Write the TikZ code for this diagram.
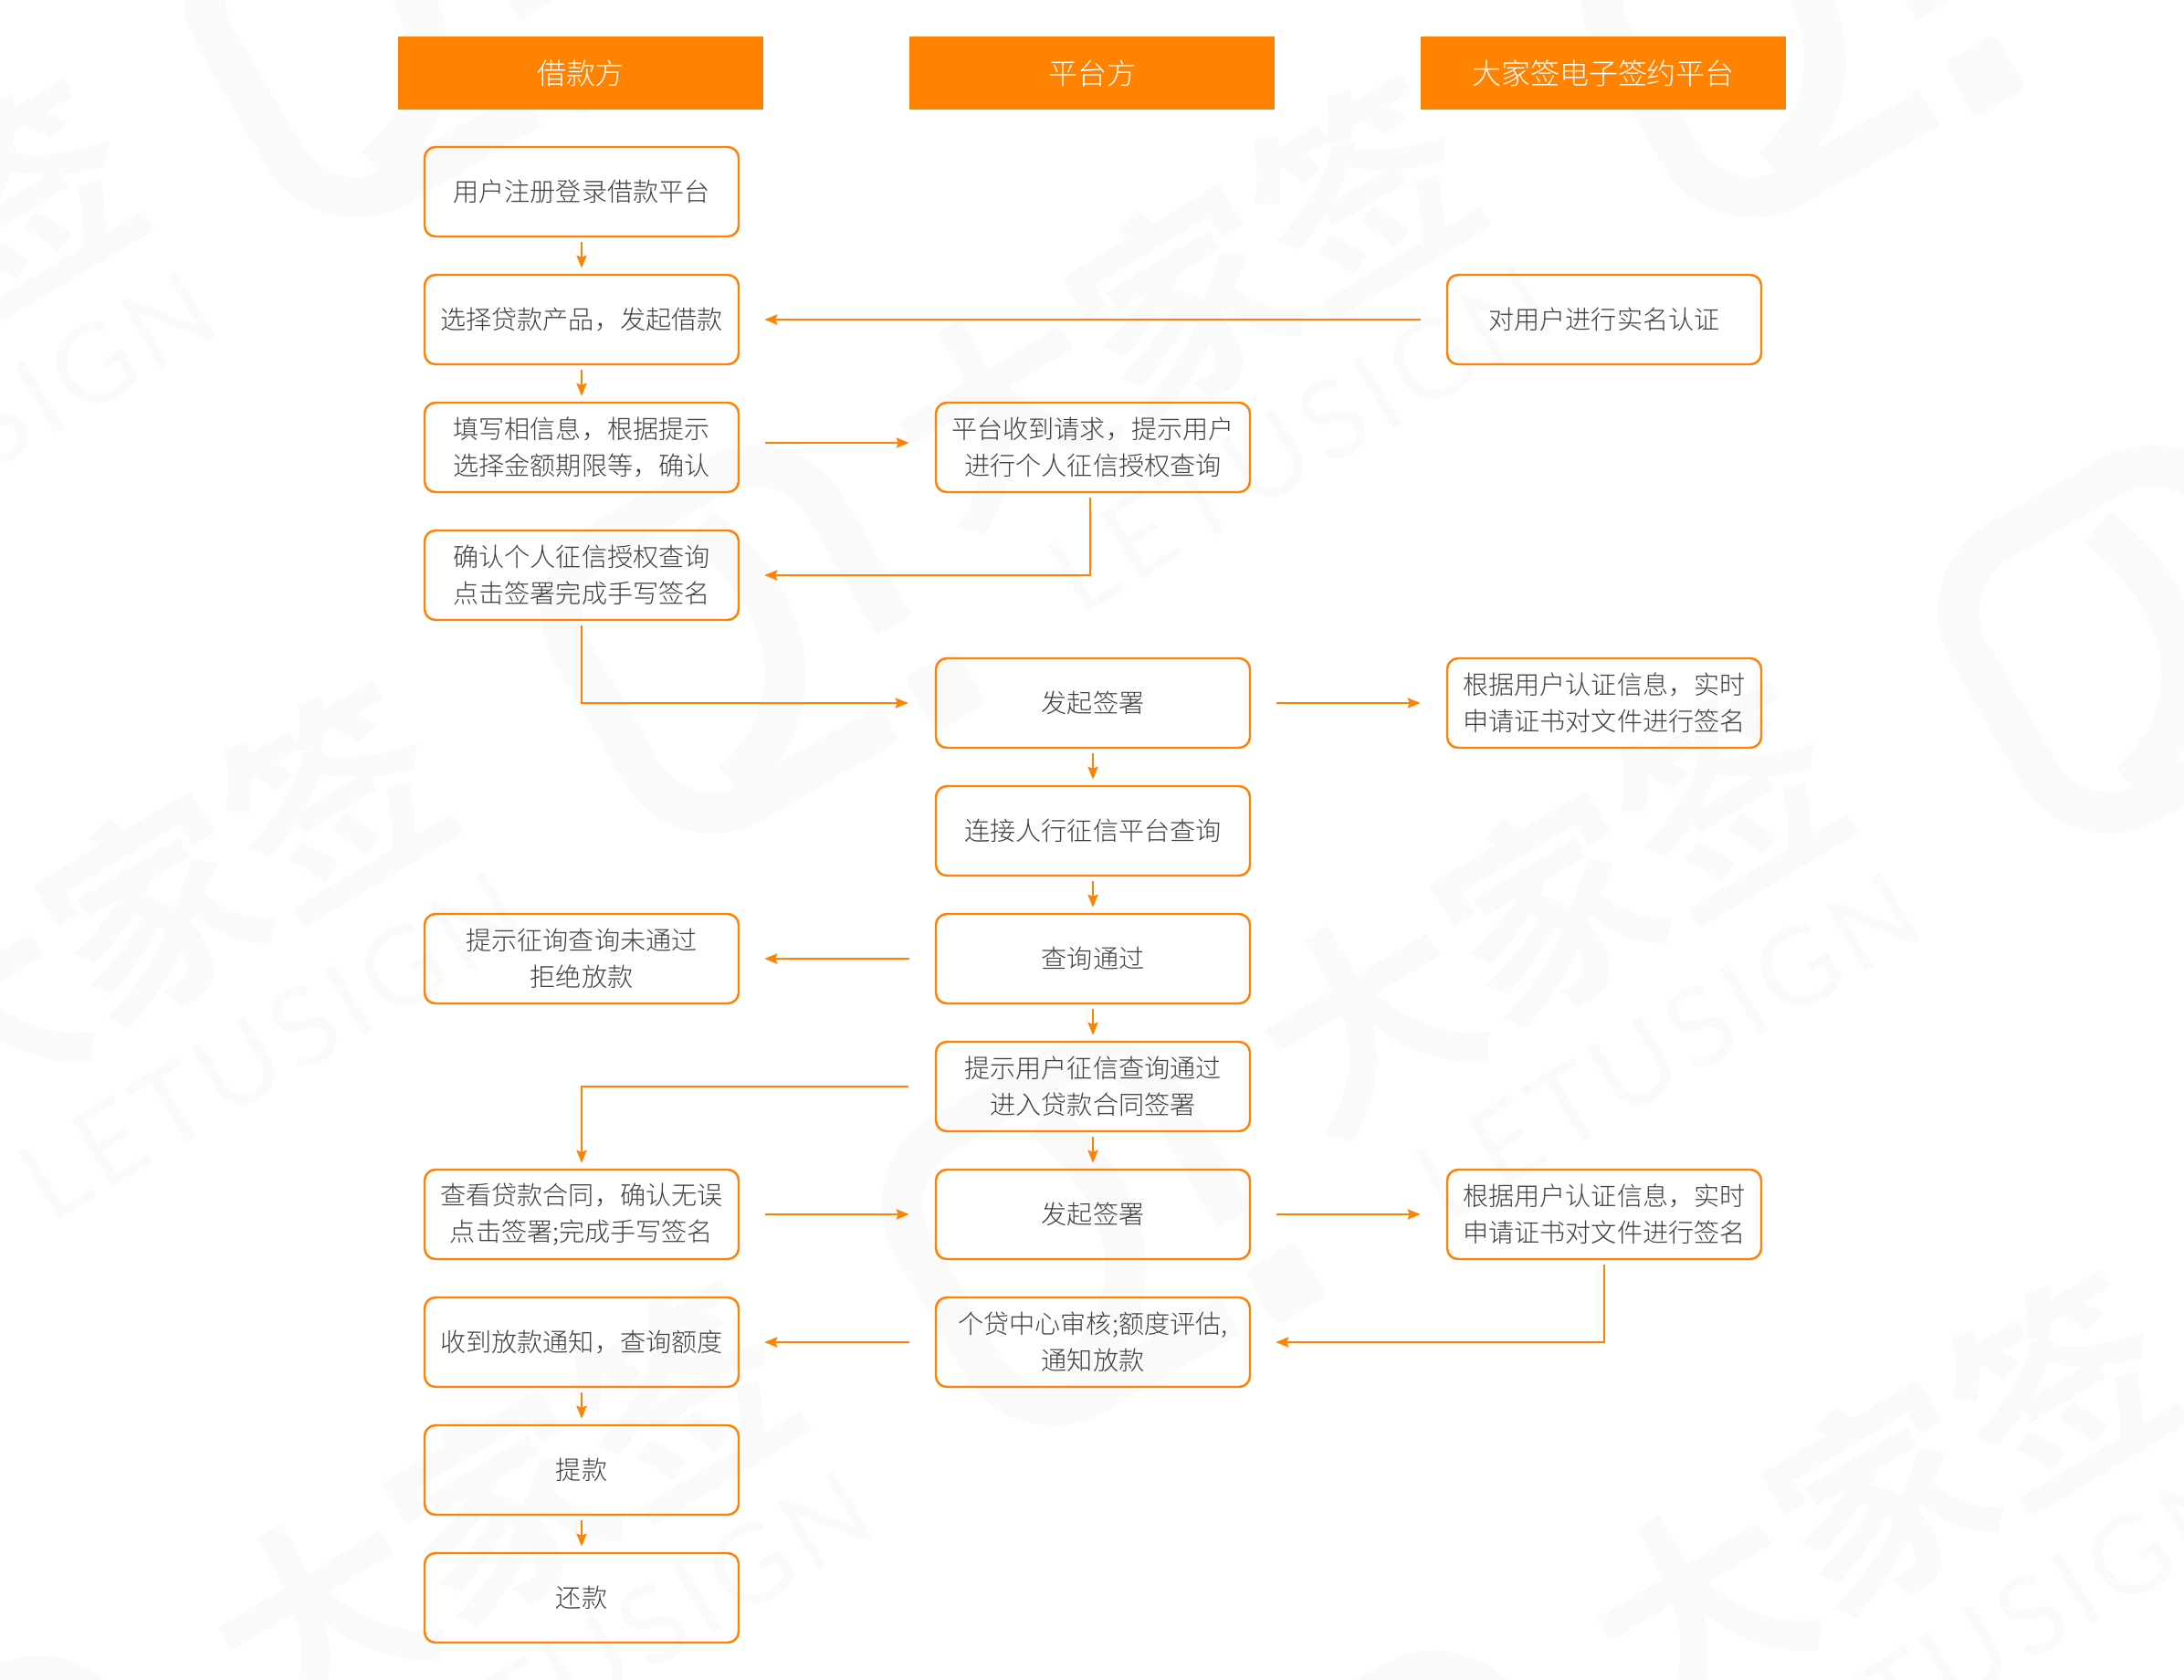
\documentclass[tikz,border=0pt]{standalone}
\usepackage{fontspec}
\setmainfont{Noto Sans CJK SC Light}
\newfontfamily\wmhanfont{Noto Sans CJK SC Bold}
\newfontfamily\wmlatfont[LetterSpace=6]{Lato}
\usetikzlibrary{arrows.meta}
\definecolor{flowgold}{HTML}{FF8200}
\definecolor{flowtext}{HTML}{404040}
\definecolor{wmgray}{HTML}{FAFAFA}
\tikzset{
    headbox/.style={fill=flowgold, text=white, minimum width=4cm, minimum height=0.80cm,
        inner sep=0pt, font=\fontsize{9.1}{11}\selectfont},
    flowbox/.style={draw=flowgold, line width=0.7pt, rounded corners=0.12cm, fill=none,
        minimum width=3.44cm, minimum height=0.98cm, inner sep=0pt, align=center,
        text=flowtext, font=\fontsize{8}{11.4}\selectfont},
    flowline/.style={draw=flowgold, line width=0.7pt, -{Stealth[length=0.14cm,width=0.11cm,inset=0.02cm]}},
    downflow/.style={flowline, shorten <=0.05cm, shorten >=0.06cm},
    sideflow/.style={flowline, shorten <=0.28cm, shorten >=0.28cm},
    backflow/.style={flowline, shorten <=0.28cm, shorten >=0.27cm},
    wmhan/.style={text=wmgray, rotate=31, inner sep=0pt, font=\wmhanfont\fontsize{66}{70}\selectfont},
    wmlat/.style={text=wmgray, rotate=31, inner sep=0pt, font=\wmlatfont\fontsize{34}{36}\selectfont},
    wmlogo/.pic={
        \draw[wmgray, line width=0.45cm, rounded corners=0.9cm]
            (-0.68,0) -- (-3.3,0) -- (-3.3,3.3) -- (-0.1,3.3) -- (-0.1,0.9);
        \draw[wmgray, line width=0.45cm] (-1.4,2.9) .. controls (-0.9,1.7) and (-1.3,0.5) .. (-2.5,0.3);
        \fill[wmgray, rounded corners=0.1cm] (-0.3,-0.35) rectangle (0.35,0.35);
    }
}
\begin{document}
\begin{tikzpicture}
    \useasboundingbox (0,0) rectangle (23.92,-18.40);
    \clip (0,0) rectangle (23.92,-18.40);

    % Watermark behind the chart
    \foreach \wx/\wy [count=\wi] in {6.42/-0.84, 10.33/-7.58, 21.72/-0.84, 25.63/-7.58, 14.06/-14.07, 2.49/-20.84, 17.78/-20.78}
        \pic[rotate=30] (wmlogo\wi) at (\wx,\wy) {wmlogo};
    \foreach \wx/\wy [count=\wi] in {-1.7/-3.35, 1.68/-9.95, 12.95/-3.3, 16.97/-9.95, 5.5/-16.5, 20.6/-16.4} {
        \node[wmhan] (wmhan\wi) at (\wx,\wy) {大家签};
        \node[wmlat] (wmlat\wi) at (\wx+1.29,\wy-1.51) {LETUSIGN};
    }

    % Column headers
    \node[headbox] (borrower) at (6.36,-0.80) {\raisebox{-0.02cm}{借款方}};
    \node[headbox] (platform) at (11.96,-0.80) {\raisebox{-0.02cm}{平台方}};
    \node[headbox] (esign) at (17.56,-0.80) {\raisebox{-0.02cm}{大家签电子签约平台}};

    % Borrower column
    \node[flowbox] (register) at (6.37,-2.10) {用户注册登录借款平台};
    \node[flowbox] (choose) at (6.37,-3.50) {选择贷款产品，发起借款};
    \node[flowbox] (fillin) at (6.37,-4.90) {填写相信息，根据提示\\选择金额期限等，确认};
    \node[flowbox] (authsign) at (6.37,-6.30) {确认个人征信授权查询\\点击签署完成手写签名};
    \node[flowbox] (rejected) at (6.37,-10.50) {提示征询查询未通过\\拒绝放款};
    \node[flowbox] (viewloan) at (6.37,-13.30) {查看贷款合同，确认无误\\点击签署;完成手写签名};
    \node[flowbox] (notified) at (6.37,-14.70) {收到放款通知，查询额度};
    \node[flowbox] (withdraw) at (6.37,-16.10) {提款};
    \node[flowbox] (repay) at (6.37,-17.50) {还款};

    % Platform column
    \node[flowbox] (received) at (11.97,-4.90) {平台收到请求，提示用户\\进行个人征信授权查询};
    \node[flowbox] (signone) at (11.97,-7.70) {发起签署};
    \node[flowbox] (bankquery) at (11.97,-9.10) {连接人行征信平台查询};
    \node[flowbox] (passed) at (11.97,-10.50) {查询通过};
    \node[flowbox] (enterloan) at (11.97,-11.90) {提示用户征信查询通过\\进入贷款合同签署};
    \node[flowbox] (signtwo) at (11.97,-13.30) {发起签署};
    \node[flowbox] (review) at (11.97,-14.70) {个贷中心审核;额度评估,\\通知放款};

    % E-sign column
    \node[flowbox] (realname) at (17.57,-3.50) {对用户进行实名认证};
    \node[flowbox] (certone) at (17.57,-7.70) {根据用户认证信息，实时\\申请证书对文件进行签名};
    \node[flowbox] (certtwo) at (17.57,-13.30) {根据用户认证信息，实时\\申请证书对文件进行签名};

    % Downward arrows
    \draw[downflow] (register) -- (choose);
    \draw[downflow] (choose) -- (fillin);
    \draw[downflow] (notified) -- (withdraw);
    \draw[downflow] (withdraw) -- (repay);
    \draw[downflow] (signone) -- (bankquery);
    \draw[downflow] (bankquery) -- (passed);
    \draw[downflow] (passed) -- (enterloan);
    \draw[downflow] (enterloan) -- (signtwo);

    % Sideways arrows
    \draw[backflow] (realname) -- (choose);
    \draw[sideflow] ([yshift=0.05cm]fillin.east) -- ([yshift=0.05cm]received.west);
    \draw[sideflow] (signone) -- (certone);
    \draw[backflow] (passed) -- (rejected);
    \draw[sideflow] (viewloan) -- (signtwo);
    \draw[sideflow] (signtwo) -- (certtwo);
    \draw[backflow] (review) -- (notified);

    % Elbow arrows
    \draw[flowline, shorten <=0.05cm, shorten >=0.27cm] ([xshift=-0.03cm]received.south) |- (authsign.east);
    \draw[flowline, shorten <=0.05cm, shorten >=0.29cm] (authsign.south) |- (signone.west);
    \draw[flowline, shorten <=0.29cm, shorten >=0.06cm] (enterloan.west) -| (viewloan.north);
    \draw[flowline, shorten <=0.05cm, shorten >=0.27cm] (certtwo.south) |- (review.east);
\end{tikzpicture}
\end{document}
